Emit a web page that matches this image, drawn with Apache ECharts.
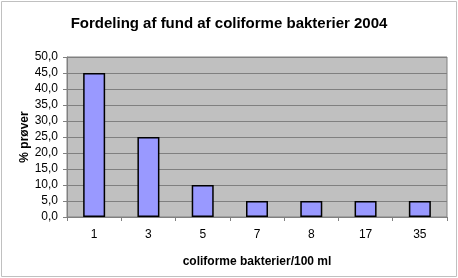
<!DOCTYPE html>
<html><head><meta charset="utf-8">
<script src="https://cdn.jsdelivr.net/npm/echarts@6/dist/echarts.min.js"></script>
<style>html,body{margin:0;padding:0;background:#fff}#c{width:458px;height:278px}</style>
</head><body><div id="c"></div>
<script>
const categories = ['1','3','5','7','8','17','35'];
const values = [45, 25, 10, 5, 5, 5, 5];
const chart = echarts.init(document.getElementById('c'), null, {renderer:'canvas'});
chart.setOption({
  animation:false,
  graphic:[{type:'rect',shape:{x:1.5,y:1.5,width:455,height:275},style:{fill:'none',stroke:'#c0c0c0',lineWidth:1}}],
  title:{text:'Fordeling af fund af coliforme bakterier 2004',left:'center',top:11,
    textStyle:{fontFamily:'Liberation Sans',fontWeight:'bold',fontSize:15,color:'#000'}},
  grid:{left:67,right:11,top:57,bottom:61,show:true,backgroundColor:'#c0c0c0',borderColor:'#808080',borderWidth:1},
  xAxis:{type:'category',data:categories,
    name:'coliforme bakterier/100 ml',nameLocation:'middle',nameGap:39,nameMoveOverlap:false,
    nameTextStyle:{fontFamily:'Liberation Sans',fontWeight:'bold',fontSize:12,color:'#000'},
    axisLine:{lineStyle:{color:'#808080'}},
    axisTick:{show:true,alignWithLabel:false,length:4,lineStyle:{color:'#808080'}},
    axisLabel:{fontFamily:'Liberation Sans',fontSize:12,color:'#000',margin:12}},
  yAxis:{type:'value',min:0,max:50,interval:5,
    name:'% prøver',nameLocation:'middle',nameGap:36,nameMoveOverlap:false,
    nameTextStyle:{fontFamily:'Liberation Sans',fontWeight:'bold',fontSize:12,color:'#000'},
    axisLine:{show:true,lineStyle:{color:'#808080'}},
    axisTick:{show:true,length:4,lineStyle:{color:'#808080'}},
    splitLine:{lineStyle:{color:'#808080'}},
    axisLabel:{fontFamily:'Liberation Sans',fontSize:12,color:'#000',margin:9,
      formatter:v=>v.toFixed(1).replace('.',',')}},
  series:[{type:'bar',data:values,barWidth:22,
    itemStyle:{color:'#9999ff',borderColor:'#000',borderWidth:1.5}}]
});
</script></body></html>
